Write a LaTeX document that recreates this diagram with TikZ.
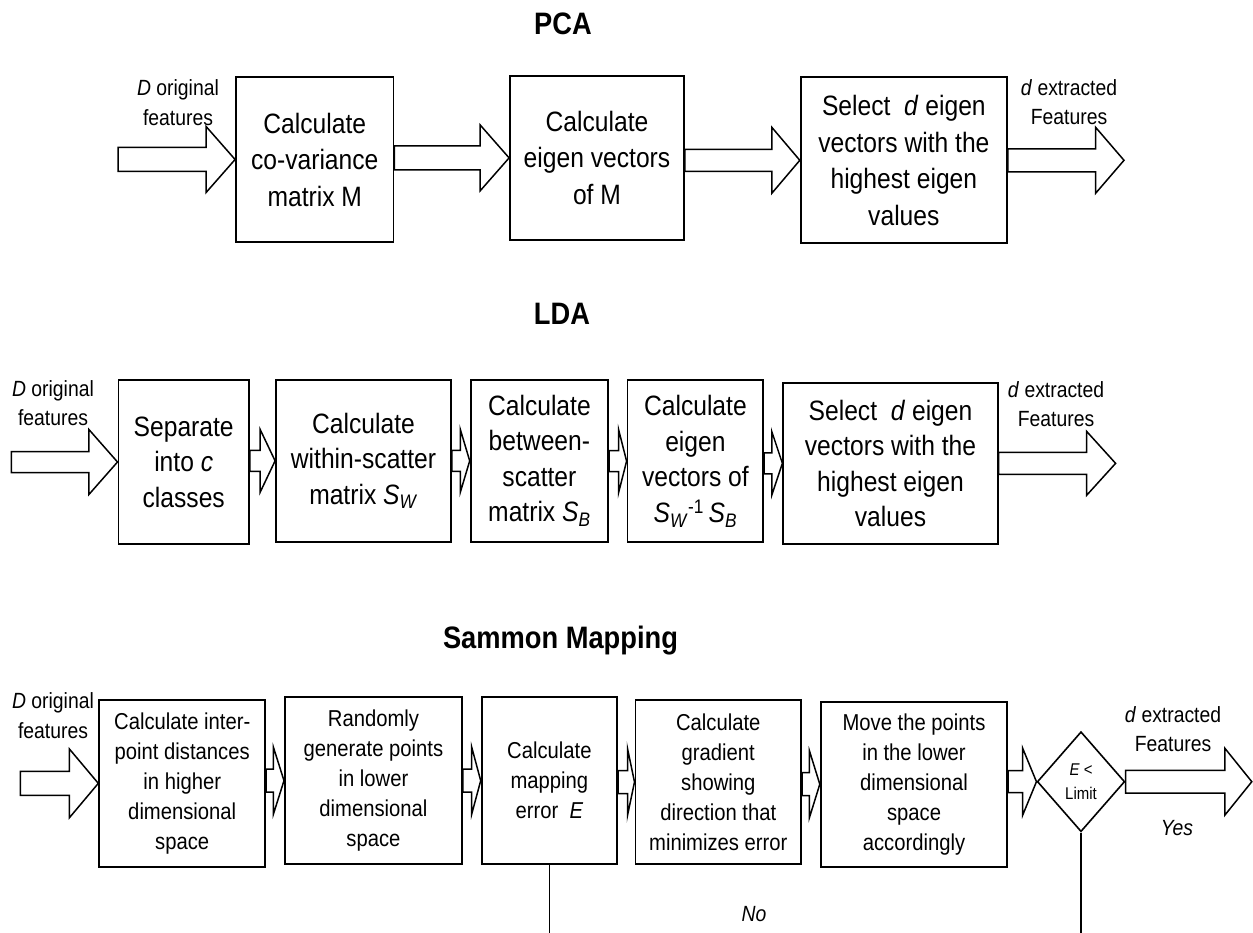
\documentclass[tikz,border=0pt]{standalone}
\usepackage{fontspec}
\setmainfont{Liberation Sans}[FakeStretch=0.88]
\usetikzlibrary{shapes.geometric,calc}
\tikzset{
 boxA/.style={draw, line width=1.8pt, inner sep=0pt, align=center, font=\fontsize{28}{36.5}\selectfont},
 boxL/.style={boxA, font=\fontsize{28}{35.5}\selectfont},
 boxS/.style={boxA, font=\fontsize{23}{30}\selectfont},
 lab/.style={inner sep=0pt, align=center, font=\fontsize{22}{29.5}\selectfont},
 ttl/.style={inner sep=0pt, anchor=base, font=\fontsize{31}{36}\selectfont\bfseries},
 blk/.style={draw, line width=1.5pt, line join=miter},
 vline/.style={draw, line width=1.6pt},
 dia/.style={draw, shape=diamond, line width=1.6pt, inner sep=0pt, align=center, font=\fontsize{17}{24}\selectfont}
}
% from, to, head length, shaft half width, head half width
\newcommand\blockarr[5]{%
  \draw[blk] let \p1=(#1), \p2=(#2) in
    (\x1,\y2+#4pt) -- (\x2-#3pt,\y2+#4pt) -- (\x2-#3pt,\y2+#5pt) -- (\x2,\y2)
    -- (\x2-#3pt,\y2-#5pt) -- (\x2-#3pt,\y2-#4pt) -- (\x1,\y2-#4pt) -- cycle;}
\begin{document}
\begin{tikzpicture}[x=1pt,y=-1pt]
\useasboundingbox (0,0) rectangle (1253,933);
\coordinate (bot) at (0,933);

% ---------------- PCA ----------------
\node[ttl] (tpca) at (563,35) {PCA};
\node[boxA, minimum width=157.5pt, minimum height=164.4pt] (p1) at (314.75,159.5)
  {Calculate\\co-variance\\matrix M};
\node[boxA, minimum width=174pt, minimum height=164.3pt] (p2) at (597,157.9)
  {Calculate\\eigen vectors\\of M};
\node[boxA, minimum width=206.3pt, minimum height=166pt] (p3) at (903.85,160.3)
  {Select~ \textit{d} eigen\\vectors with the\\highest eigen\\values};
\coordinate (pin) at (118,159.5);
\coordinate (pout) at (1124,160.3);
\node[lab] (pl) at (178,102.8) {\textit{D} original\\features};
\node[lab] (pr) at (1069,102) {\textit{d} extracted\\Features};
\blockarr{pin}{p1.west}{29}{12}{33}
\blockarr{p1.east}{p2.west}{29}{12}{33}
\blockarr{p2.east}{p3.west}{28}{11}{33}
\blockarr{p3.east}{pout}{28.4}{11.5}{33}

% ---------------- LDA ----------------
\node[ttl] (tlda) at (562,325) {LDA};
\node[boxL, minimum width=130.6pt, minimum height=164pt] (l1) at (183.7,462)
  {Separate\\into \textit{c}\\classes};
\node[boxL, minimum width=175pt, minimum height=161.7pt] (l2) at (363.5,460.85)
  {Calculate\\within-scatter\\matrix \textit{S}\textsubscript{\textit{W}}};
\node[boxL, minimum width=137.6pt, minimum height=161.7pt] (l3) at (539.4,460.85)
  {Calculate\\between-\\scatter\\matrix \textit{S}\textsubscript{\textit{B}}};
\node[boxL, minimum width=135.8pt, minimum height=162.3pt] (l4) at (695.4,461.15)
  {Calculate\\eigen\\vectors of\\\textit{S}\textsubscript{\textit{W}}\textsuperscript{-1}\,\textit{S}\textsubscript{\textit{B}}};
\node[boxL, minimum width=214.4pt, minimum height=161.3pt] (l5) at (890.5,463.35)
  {Select~ \textit{d} eigen\\vectors with the\\highest eigen\\values};
\coordinate (lin) at (11.4,462);
\coordinate (lout) at (1115.6,463.35);
\node[lab] (ll) at (53,403.3) {\textit{D} original\\features};
\node[lab] (lr) at (1056,404) {\textit{d} extracted\\Features};
\blockarr{lin}{l1.west}{28.6}{10.5}{32.5}
\blockarr{l1.east}{l2.west}{15}{10.5}{31.5}
\blockarr{l2.east}{l3.west}{9.4}{10.5}{31.5}
\blockarr{l3.east}{l4.west}{8}{10.5}{31.5}
\blockarr{l4.east}{l5.west}{10.5}{10.5}{31.5}
\blockarr{l5.east}{lout}{29}{11}{32}

% ---------------- Sammon ----------------
\node[ttl] (tsam) at (560.5,648.3) {Sammon Mapping};
\node[boxS, minimum width=166.1pt, minimum height=166.7pt] (s1) at (182.25,783.35)
  {Calculate inter-\\point distances\\in higher\\dimensional\\space};
\node[boxS, minimum width=177.1pt, minimum height=166.7pt] (s2) at (373.45,780.65)
  {Randomly\\generate points\\in lower\\dimensional\\space};
\node[boxS, minimum width=135.5pt, minimum height=166.7pt] (s3) at (549.35,780.65)
  {Calculate\\mapping\\error~~\textit{E}};
\node[boxS, minimum width=165.8pt, minimum height=164pt] (s4) at (718.3,782)
  {Calculate\\gradient\\showing\\direction that\\minimizes error};
\node[boxS, minimum width=186.6pt, minimum height=165pt] (s5) at (914,784.2)
  {Move the points\\in the lower\\dimensional\\space\\accordingly};
\node[dia, minimum width=87.5pt, minimum height=100pt] (d) at (1081,781.7)
  {\textit{E} <\\Limit};
\coordinate (sin) at (20.4,783.35);
\coordinate (sout) at (1251.8,781.7);
\node[lab] (sl) at (53,715.8) {\textit{D} original\\features};
\node[lab] (sr) at (1173,729) {\textit{d} extracted\\Features};
\node[lab] (yes) at (1177,828.3) {\textit{Yes}};
\node[lab] (no) at (754,914) {\textit{No}};
\blockarr{sin}{s1.west}{29}{12}{34.5}
\blockarr{s1.east}{s2.west}{10.6}{11.5}{33.5}
\blockarr{s2.east}{s3.west}{9}{11.5}{33.5}
\blockarr{s3.east}{s4.west}{7}{11.5}{33.5}
\blockarr{s4.east}{s5.west}{10.4}{11.5}{33.5}
\blockarr{s5.east}{d.west}{13.8}{11}{33.5}
\blockarr{d.east}{sout}{27}{11.3}{33.5}
\draw[vline] (s3.south) -- (s3.south |- bot);
\draw[vline] (d.south) -- (d.south |- bot);
\end{tikzpicture}
\end{document}
